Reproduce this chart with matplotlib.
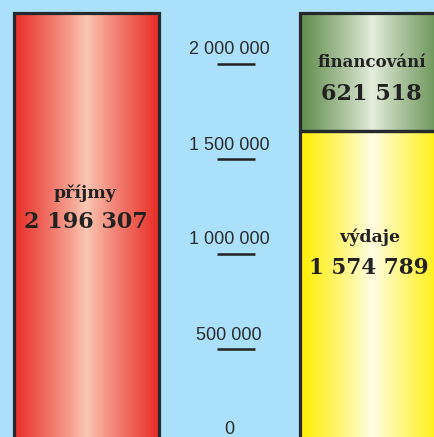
import numpy as np
import matplotlib.pyplot as plt
import matplotlib.transforms as mtransforms
from matplotlib.patches import Rectangle

# rozpocet (Kc)
prijmy = 2196307
vydaje = 1574789
financovani = 621518
ticks = [0, 500000, 1000000, 1500000, 2000000]

def fmt(v):
    return f"{v:,}".replace(",", " ")

bg = "#abe0fa"
edge = "#24292b"

fig = plt.figure(figsize=(4.34, 4.37), dpi=100)
fig.patch.set_facecolor(bg)
ax = fig.add_axes([0, 0, 1, 1])
ax.set_facecolor(bg)

# 0 at 430 px from top, 95 px per 500 000
px = 500000 / 95
bottom = -20 * px

def grad_bar(x0, w, y0, y1, c_edge, c_mid):
    t = np.abs(np.linspace(-1, 1, 200))
    c_edge = np.array(c_edge) / 255
    c_mid = np.array(c_mid) / 255
    img = c_mid + (c_edge - c_mid) * t[:, None] ** 0.9
    ax.imshow(img[None, :, :], extent=[x0, x0 + w, y0, y1], aspect="auto",
              interpolation="bilinear", zorder=1)
    ax.add_patch(Rectangle((x0, y0), w, y1 - y0, fill=False, ec=edge,
                           lw=2.3, zorder=2))

# left bar - prijmy
grad_bar(13.5, 145, bottom, prijmy, (232, 45, 38), (250, 200, 180))
# right bar - vydaje + financovani
grad_bar(299.5, 145, bottom, vydaje, (255, 238, 0), (255, 253, 232))
grad_bar(299.5, 145, vydaje, vydaje + financovani, (95, 140, 75), (230, 238, 222))
ax.set_xlim(0, 434)
ax.set_ylim(-7 * px, 430 * px)
ax.axis("off")

lab = dict(family="DejaVu Serif", fontweight="bold", color="#222222",
           ha="center", va="center", zorder=3)
ax.text(85.5, (430 - 193) * px, "příjmy", fontsize=12.5, **lab)
ax.text(85.5, (430 - 222) * px, fmt(prijmy), fontsize=16, **lab)
ax.text(371.5, (430 - 63) * px, "financování", fontsize=12, **lab)
ax.text(371.5, (430 - 94) * px, fmt(financovani), fontsize=16, **lab)
ax.text(370, (430 - 237) * px, "výdaje", fontsize=12.5, **lab)
ax.text(369, (430 - 268) * px, fmt(vydaje), fontsize=15.5, **lab)

# scale labels with short lines under them
under = mtransforms.offset_copy(ax.transData, fig=fig, x=0, y=-13.5, units="dots")
for v in ticks:
    ax.text(229, v, fmt(v), family="Liberation Sans", fontsize=13, color="#2a2a2a",
            ha="center", va="center")
    if v > 0:
        ax.plot([217, 255], [v, v], color="#222222", lw=1.8, transform=under,
                solid_capstyle="butt")

fig.savefig("out.png", dpi=100, facecolor=bg)
